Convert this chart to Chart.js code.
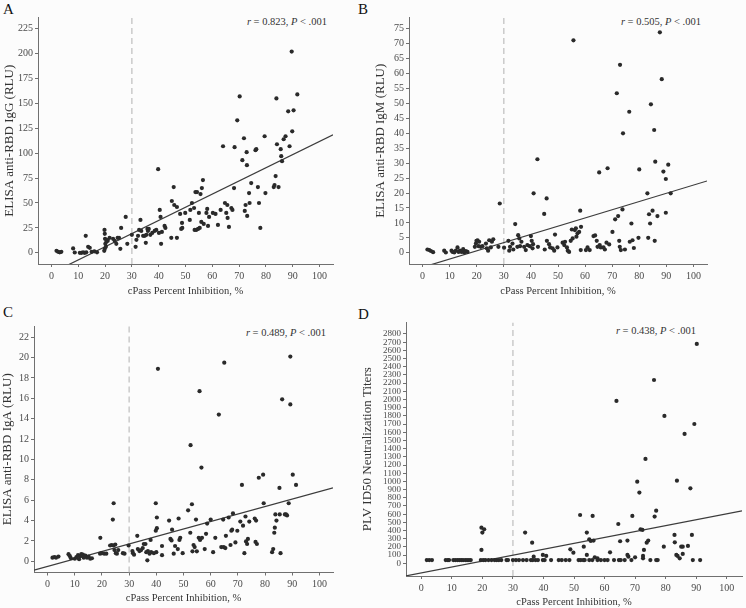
<!DOCTYPE html>
<html>
<head>
<meta charset="utf-8">
<script src="https://cdn.jsdelivr.net/npm/chart.js@4.4.1/dist/chart.umd.min.js"></script>
<style>
  html, body { margin: 0; padding: 0; background: #fcfcfc; overflow: hidden; }
  body { width: 746px; height: 608px; position: relative; font-family: 'Liberation Serif', serif; }
  canvas { position: absolute; }
  .tag { position: absolute; font-size: 15px; line-height: 15px; color: #111; }
  .stat { position: absolute; font-size: 10.5px; line-height: 12px; color: #333; white-space: nowrap; }
</style>
</head>
<body>
<div class="tag" style="left:3px;top:2px">A</div>
<div class="tag" style="left:358px;top:2px">B</div>
<div class="tag" style="left:3px;top:305px">C</div>
<div class="tag" style="left:358px;top:307px">D</div>

<div class="stat" id="statA" style="right:419px;top:16px"></div>
<div class="stat" id="statB" style="right:45px;top:16px"></div>
<div class="stat" id="statC" style="right:420px;top:327px"></div>
<div class="stat" id="statD" style="right:50px;top:325px"></div>

<canvas id="chartA"></canvas>
<canvas id="chartB"></canvas>
<canvas id="chartC"></canvas>
<canvas id="chartD"></canvas>

<script>
const xTitle = 'cPass Percent Inhibition, %';
const xTicks = [0, 10, 20, 30, 40, 50, 60, 70, 80, 90, 100];
const cutoff = 30;

const ticksA = [0, 25, 50, 75, 100, 125, 150, 175, 200, 225];
const ticksB = [0, 5, 10, 15, 20, 25, 30, 35, 40, 45, 50, 55, 60, 65, 70, 75];
const ticksC = [0, 2, 4, 6, 8, 10, 12, 14, 16, 18, 20, 22];
const ticksD = [0, 100, 200, 300, 400, 500, 600, 700, 800, 900, 1000, 1100, 1200, 1300, 1400,
  1500, 1600, 1700, 1800, 1900, 2000, 2100, 2200, 2300, 2400, 2500, 2600, 2700, 2800];

const rValues = ['0.823', '0.505', '0.489', '0.438'];

const fitA = { slope: 1.322, intercept: -20.4 };
const fitB = { slope: 0.275, intercept: -4.84 };
const fitC = { slope: 0.0735, intercept: -0.51 };
const fitD = { slope: 7.22, intercept: -117.5 };

// A: IgG
const xA = [1.9, 2.5, 3.1, 3.7, 8.1, 8.7, 10.6, 11.2, 11.8, 12.4, 13, 12.8, 13.7, 14.3, 15, 16, 17,
  19.8, 19.9, 20, 20.1, 19.9, 19.7, 20.3, 20.5, 20.6, 21, 21.7, 23, 23.6, 24.2, 24.7, 25.2, 25.7, 26,
  27.7, 28.3, 30, 31.4, 31.7, 32.3, 32.7, 33.2, 33.5, 34.2, 34.8, 35.4, 35.2, 35.8, 36, 36.3, 36.9,
  37.6, 38.5, 39.1, 39.8, 40.1, 40.4, 40.7, 40.9, 41.2, 42.2, 42.5, 44.7, 44.9, 45.6, 45.8, 46.8,
  46.8, 48, 48.4, 48.7, 48.8, 49.9, 51.6, 51.8, 52.4, 53.2, 53.4, 53.7, 54.3, 54, 54.7, 55, 55.3,
  55.6, 56.1, 56.5, 55.9, 56.8, 57.8, 58.1, 58.4, 58.8, 60.2, 61.2, 62.1, 63.1, 64, 64.7, 65.2, 65.6,
  65.7, 66.2, 67.1, 67.5, 68.1, 68.3, 69.3, 70.2, 71.2, 71.8, 72.1, 72.4, 72.8, 72.9, 73, 73.7, 73.9,
  74.5, 76.1, 76.4, 77, 77.4, 77.9, 79.5, 79.8, 82.9, 83.2, 83.6, 83.9, 84.1, 84.7, 85.5, 85.7, 86,
  86.6, 87.3, 88.3, 88.8, 89.6, 89.8, 90.3, 91.7];
const yA = [2, 1, 0.5, 1, 4.4, 0.3, 0, 0, 0.5, 0, 0.5, 17, 6, 5, 1, 1.5, 0.5,
  23, 19, 14, 9, 4, 2, 6, 11, 13, 12, 15, 14, 12, 9, 15, 15, 4, 25,
  36, 9, 18, 6, 13, 17, 23, 33, 22, 17, 17, 18, 10, 24, 22, 24, 18,
  20, 22, 23, 84, 20, 43, 36, 9, 21, 27, 25, 15, 52, 66, 48, 46,
  15, 39, 24, 30, 25, 40, 33, 43, 50, 45, 23, 61, 61, 23, 24, 40, 25,
  59, 65, 73, 31, 29, 40, 44, 27, 36, 40, 39, 28, 43, 107, 50, 40, 48,
  35, 26, 45, 43, 65, 106, 133, 157, 93, 115, 42, 48, 101, 88, 37, 60, 50,
  70, 103, 104, 66, 50, 25, 117, 60, 66, 68, 77, 155, 109, 66, 104, 97, 92,
  114, 117, 142, 107, 202, 122, 143, 159];

// B: IgM
const xB = [1.8, 2.5, 3.1, 3.9, 8, 8.6, 10.7, 11.1, 11.7, 12.3, 12.9, 13.3, 13.8, 14.4, 15, 15.4, 16,
  16.6, 19.3, 19.7, 19.9, 20.3, 20.7, 20.9, 21.5, 22.1, 23.4, 23.7, 24.2, 24.6, 25.2, 25.6, 26.1, 28,
  28.5, 30.1, 31.7, 32, 32.3, 33.2, 33.5, 34.2, 35, 35.3, 35.7, 36, 36.5, 37.5, 38.1, 38.7, 39.6, 40,
  40.3, 40.6, 40.8, 41, 42.4, 42.6, 44.9, 45.1, 45.8, 45.9, 46.7, 47.1, 48, 48.6, 48.9, 49.8, 51.7,
  52.3, 52.6, 53.3, 53.6, 54.1, 54.7, 55.1, 55.4, 55.7, 56.2, 56.6, 56.8, 57.2, 57.8, 58.2, 58.4, 58.5,
  60.3, 60.9, 61.7, 63.1, 63.7, 64.3, 64.6, 65.2, 65.4, 65.8, 66.8, 67.3, 67.9, 68.3, 68.9, 70.1, 71.1,
  71.7, 72.2, 72.6, 72.8, 72.9, 73.2, 73.8, 74, 74.7, 76.3, 76.5, 77.1, 77.5, 78, 79.7, 80, 83, 83.3,
  83.6, 84, 84.3, 84.9, 85.5, 85.7, 85.9, 86.7, 87.6, 88.3, 88.9, 89.8, 89.8, 90.7, 91.6];
const yB = [1.1, 0.9, 0.6, 0.2, 0.7, 0.1, 0.7, 0.3, 0.1, 0.7, 1.8, 0.3, 0.7, 0.3, 1.2, 0.1, 0.6,
  0.3, 2, 3.1, 4, 4.2, 2.2, 3.7, 2, 2.2, 3.1, 1.5, 0.7, 4.2, 1.8, 3.7, 4.5, 2,
  16.5, 1.7, 4, 0.7, 2, 3.1, 1.1, 9.6, 2, 5.9, 4.8, 2.2, 3.7, 2, 0.9, 2.6, 2.2, 5.6,
  4, 1.5, 2.9, 19.9, 31.3, 2, 13, 1.1, 18.2, 4, 2.9, 1.8, 1.5, 0.7, 6.1, 1.8, 3.4,
  2.6, 3.7, 1.8, 0.7, 0.3, 4, 7.8, 4.8, 71.1, 7.6, 8.2, 5.4, 6.5, 7, 14.1, 0.9, 8.7,
  0.9, 1.8, 0.9, 5.6, 5.8, 4, 2, 26.9, 2.6, 1.8, 1.8, 1.1, 3.4, 28.3, 2.8, 7, 11.2,
  53.4, 12.3, 4, 2, 62.9, 0.9, 14.5, 40, 1.1, 47.2, 3.7, 9.8, 4.2, 1.6, 5, 27.9, 19.9, 5,
  12.9, 9.8, 49.7, 14.1, 41.1, 4, 30.5, 12.3, 73.8, 58.1, 27.2, 24.7, 13.4, 29.5, 19.9];

// C: IgA
const xC = [1.8, 2.5, 3.1, 4, 7.7, 8.2, 8.6, 10, 10.6, 11.2, 11.6, 12, 12.4, 13, 13.3, 13.9, 14.5,
  15.1, 15.7, 16.3, 19.4, 19.3, 19.9, 20.8, 21.6, 23, 23.6, 24.3, 24.9, 24, 24.3, 24.6, 25.5, 26,
  25.1, 27.7, 28.3, 29.8, 31.2, 31.4, 31.8, 33, 33.2, 33.8, 34.4, 35, 35.4, 36, 36.3, 36.9, 37.5,
  36.7, 38.1, 39.1, 40, 37.9, 39.8, 40.2, 39.8, 40.2, 40.6, 42.1, 42.1, 44.7, 45.2, 45.6, 45.8,
  46.4, 46.9, 47.9, 48.2, 48.5, 48.8, 49.7, 51.7, 52.5, 52.6, 53.1, 53.3, 53.7, 54.1, 54.6, 54.9,
  55.6, 55.9, 56.1, 56.6, 56.8, 57.8, 58.3, 58.7, 60, 60.9, 61.7, 63, 63.9, 64.6, 64.8, 65, 65.4,
  65.6, 66.6, 67.3, 67.6, 67.9, 68.2, 69.1, 69.8, 70.9, 71.5, 71.9, 72.4, 72.8, 73, 73.4, 73.7,
  74.2, 76.2, 76.7, 76.5, 77, 77.7, 79.3, 79.5, 82.6, 83, 83.4, 83.6, 83.8, 84.2, 85.3, 85.4, 85.7,
  86.3, 87.3, 87.7, 88.1, 88.7, 89.3, 89.3, 90.2, 91.4];
const yC = [0.36, 0.42, 0.36, 0.46, 0.7, 0.5, 0.3, 0.25, 0.4, 0.6, 0.2, 0.5, 0.7, 0.65, 0.35, 0.55, 0.35,
  0.45, 0.25, 0.3, 2.3, 0.75, 0.8, 0.75, 0.75, 1.55, 1.6, 1.55, 1.65, 4.1, 5.7, 1.1, 0.75, 1.1,
  0.8, 0.8, 0.75, 1.55, 1, 0.8, 0.65, 2.5, 1.2, 1, 1.1, 1.3, 1.7, 1.7, 0.9, 1, 0.75,
  0.1, 0.9, 0.8, 0.9, 2.1, 3, 3.25, 5.7, 4.3, 18.9, 1.5, 0.6, 4, 2.2, 2.05, 3.1,
  0.75, 1.5, 1.2, 4.2, 2.1, 2.3, 0.8, 5, 2.8, 11.4, 5.6, 0.98, 1.6, 1.4, 4.1, 0.98,
  2.3, 16.7, 2.1, 9.2, 2.3, 1.2, 2.7, 3.7, 4.1, 0.9, 2.3, 14.4, 1.4, 4.1, 1.4, 19.5, 1.3,
  2.5, 4.3, 1.6, 3, 3.1, 4.7, 1.85, 3, 3.9, 7.5, 3.5, 0.8, 4.4, 1.95, 1.7, 2.2,
  3.9, 4.2, 4, 1.9, 1.7, 8.2, 8.5, 5.7, 0.9, 1.2, 2.8, 3.3, 4.6, 4, 7.2, 4.6, 0.8,
  15.9, 4.6, 4.6, 4.5, 5.7, 15.4, 20.1, 8.5, 7.5];

// D: PLV ID50
const xD = [1.8, 2.6, 3.5, 8, 8.7, 9.1, 10.5, 11.2, 11.9, 12.5, 13.1, 13.7, 14.4, 15, 15.6, 16.2,
  19.5, 20.3, 21, 22, 23, 24, 24.7, 25.4, 26.2, 27.9, 28.4, 30, 31, 32, 33.3, 34.5, 35.9, 36.5, 37.4,
  38.2, 39.8, 40.4, 42.5, 45, 46, 47.3, 48.5, 51.5, 52.2, 53, 53.5, 55, 56, 57.7, 58.8, 60, 61, 63.1,
  64.7, 65.3, 66.6, 68.8, 75, 76.9, 77.4, 88.9, 91.3,
  19.7, 20, 20.6, 19.7, 34, 36.3, 36.8, 39.8, 40.9, 48.8, 49.8, 52, 53.2, 54.2, 54.2, 55, 55.5, 56.1,
  56.4, 56.8, 57.7, 61.8, 63.9, 64.5, 65.1, 67.5, 67.5, 67.8, 69.1, 70, 70.7, 71.4, 71.8, 72.4, 72.6,
  72.6, 72.9, 73.4, 73.8, 74.3, 76.2, 76.4, 76.9, 79.4, 79.6, 82.9, 83, 83.5, 83.7, 83.9, 84.6, 85.1,
  85.6, 85.6, 86.2, 87.3, 88.1, 88.6, 89.4, 90.2];
const yD = [40, 40, 40, 40, 40, 40, 40, 40, 40, 40, 40, 40, 40, 40, 40, 40,
  40, 40, 40, 40, 40, 40, 40, 40, 40, 40, 40, 40, 40, 40, 40, 40, 40, 40, 40,
  40, 40, 40, 40, 40, 40, 40, 40, 40, 40, 40, 40, 40, 40, 40, 40, 40, 40, 40,
  40, 40, 40, 40, 40, 40, 40, 40, 40,
  435, 375, 415, 163, 375, 252, 81, 102, 90, 171, 130, 590, 203, 375, 102, 293, 273, 578,
  277, 73, 61, 134, 1982, 480, 269, 277, 102, 81, 578, 73, 997, 863, 415, 407, 90,
  61, 163, 1274, 252, 277, 2238, 570, 643, 203, 1799, 346, 256, 102, 1009, 90, 61, 203,
  203, 114, 1579, 212, 916, 346, 1701, 2678];

const fontFamily = "'Liberation Serif', 'DejaVu Serif', serif";
const axisColor = '#707070';
const tickColor = '#4a4a4a';
const titleColor = '#333';
const dotColor = '#2a2a2a';

const panels = [
  { id: 'chartA', stat: 'statA', r: rValues[0], xs: xA, ys: yA, fit: fitA, yTicks: ticksA, tickSize: 10,
    yTitle: 'ELISA anti-RBD IgG (RLU)', yMin: -11.25, yMax: 236.25,
    canvas: { left: 2, top: 0, width: 371, height: 300 }, area: { left: 38, top: 17.5, right: 333, bottom: 264 } },
  { id: 'chartB', stat: 'statB', r: rValues[1], xs: xB, ys: yB, fit: fitB, yTicks: ticksB, tickSize: 10,
    yTitle: 'ELISA anti-RBD IgM (RLU)', yMin: -3.75, yMax: 78.75,
    canvas: { left: 373, top: 0, width: 373, height: 300 }, area: { left: 409, top: 17.5, right: 707, bottom: 264 } },
  { id: 'chartC', stat: 'statC', r: rValues[2], xs: xC, ys: yC, fit: fitC, yTicks: ticksC, tickSize: 10,
    yTitle: 'ELISA anti-RBD IgA (RLU)', yMin: -1.1, yMax: 23.1,
    canvas: { left: 0, top: 304, width: 373, height: 303 }, area: { left: 34, top: 326, right: 333, bottom: 572.5 } },
  { id: 'chartD', stat: 'statD', r: rValues[3], xs: xD, ys: yD, fit: fitD, yTicks: ticksD, tickSize: 9,
    yTitle: 'PLV ID50 Neutralization Titers', yMin: -155, yMax: 2940,
    canvas: { left: 360, top: 304, width: 386, height: 307 }, area: { left: 406, top: 322.5, right: 745, bottom: 576 } }
];

panels.forEach(buildPanel);

function buildPanel(p) {
  const el = document.getElementById(p.id);
  const c = p.canvas;
  el.width = c.width;
  el.height = c.height;
  el.style.left = c.left + 'px';
  el.style.top = c.top + 'px';
  el.style.width = c.width + 'px';
  el.style.height = c.height + 'px';

  document.getElementById(p.stat).innerHTML = `<i>r</i> = ${p.r}, <i>P</i> &lt; .001`;

  const points = p.xs.map((x, i) => ({ x, y: p.ys[i] }));
  const fitLine = [-5, 105].map((x) => ({ x, y: p.fit.intercept + p.fit.slope * x }));
  const cutLine = [{ x: cutoff, y: p.yMin }, { x: cutoff, y: p.yMax }];
  const bottomPad = 2;
  const plain = (v) => String(v);

  new Chart(el, {
    type: 'scatter',
    data: {
      datasets: [
        { data: points, pointRadius: 2.1, pointBackgroundColor: dotColor, pointBorderWidth: 0 },
        { data: fitLine, showLine: true, borderColor: '#3c3c3c', borderWidth: 1.2, pointRadius: 0 },
        { data: cutLine, showLine: true, borderColor: '#c6c6c6', borderWidth: 1.4, borderDash: [6, 4], pointRadius: 0 }
      ]
    },
    options: {
      responsive: false,
      animation: false,
      events: [],
      layout: {
        padding: {
          left: 0,
          top: p.area.top - c.top,
          right: c.left + c.width - p.area.right,
          bottom: bottomPad
        }
      },
      plugins: { legend: { display: false }, tooltip: { enabled: false } },
      scales: {
        x: {
          type: 'linear',
          min: -5,
          max: 105,
          afterBuildTicks: (s) => { s.ticks = xTicks.map((v) => ({ value: v })); },
          afterFit: (s) => { s.height = c.top + c.height - bottomPad - p.area.bottom; },
          grid: { drawOnChartArea: false, drawTicks: true, tickLength: 3, color: axisColor },
          border: { display: true, color: axisColor, width: 1 },
          ticks: { color: tickColor, font: { family: fontFamily, size: 10 }, padding: 3, maxRotation: 0, autoSkip: false, callback: plain },
          title: { display: true, text: xTitle, color: titleColor, font: { family: fontFamily, size: 10.5 }, padding: { top: 0, bottom: 0 } }
        },
        y: {
          type: 'linear',
          min: p.yMin,
          max: p.yMax,
          afterBuildTicks: (s) => { s.ticks = p.yTicks.map((v) => ({ value: v })); },
          afterFit: (s) => { s.width = p.area.left - c.left; },
          grid: { drawOnChartArea: false, drawTicks: true, tickLength: 3, color: axisColor },
          border: { display: true, color: axisColor, width: 1 },
          ticks: { color: tickColor, font: { family: fontFamily, size: p.tickSize }, padding: 2, autoSkip: false, callback: plain },
          title: { display: true, text: p.yTitle, color: titleColor, font: { family: fontFamily, size: 13 }, padding: { top: 0, bottom: 0 } }
        }
      }
    }
  });
}
</script>
</body>
</html>
